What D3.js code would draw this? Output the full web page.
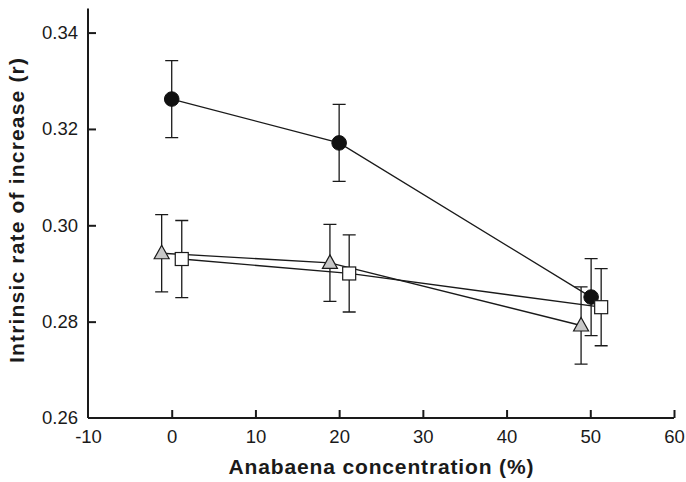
<!DOCTYPE html>
<html><head><meta charset="utf-8">
<script src="https://cdn.jsdelivr.net/npm/d3@7"></script>
<style>body{margin:0;background:#fff}svg{display:block}</style>
</head><body>
<svg id="c" width="686" height="482"></svg>
<script>
const xTicks = [-10, 0, 10, 20, 30, 40, 50, 60];
const xTickLabels = ["-10", "0", "10", "20", "30", "40", "50", "60"];
const yTicks = [0.26, 0.28, 0.30, 0.32, 0.34];
const yTickLabels = ["0.26", "0.28", "0.30", "0.32", "0.34"];

const circleX = [0, 20, 50.1];
const circleY = [0.3262, 0.3171, 0.2851];
const circleErr = [0.008, 0.008, 0.008];

const triX = [-1.2, 18.9, 48.9];
const triY = [0.2942, 0.2922, 0.2792];
const triErr = [0.008, 0.008, 0.008];

const sqX = [1.2, 21.2, 51.3];
const sqY = [0.2930, 0.2900, 0.2830];
const sqErr = [0.008, 0.008, 0.008];

const svg = d3.select("#c");
const x = d3.scaleLinear().domain([-10, 60]).range([88, 674]);
const y = d3.scaleLinear().domain([0.26, 0.345]).range([418, 8.5]);
const ink = "#1a1a1a";
const font = "'Liberation Sans', Arial, Helvetica, sans-serif";

// axes
const yAxis = d3.axisLeft(y).tickValues(yTicks).tickFormat((d,i)=>yTickLabels[i]).tickSize(-8).tickPadding(10).tickSizeOuter(0);
const gy = svg.append("g").attr("transform", "translate(88,0)").call(yAxis);
const xAxis = d3.axisBottom(x).tickValues(xTicks).tickFormat((d,i)=>xTickLabels[i]).tickSize(-8).tickPadding(12).tickSizeOuter(0);
const gx = svg.append("g").attr("transform", "translate(0,418)").call(xAxis);
[gx, gy].forEach(g => {
  g.attr("font-size", null).attr("font-family", null);
  g.select(".domain").attr("stroke", ink).attr("stroke-width", 2);
  g.selectAll(".tick line").attr("stroke", ink).attr("stroke-width", 2);
  g.selectAll(".tick text").attr("fill", ink).style("font-family", font).style("font-size", "18.5px");
});
gy.select(".domain").attr("d", `M0,${y.range()[1]}V418`);
gx.select(".domain").attr("d", `M88,0H674`);
gy.selectAll(".tick").filter(d => d === 0.26).select("line").remove();
gx.selectAll(".tick").filter(d => d === -10).select("line").remove();

// titles
svg.append("text").attr("x", 381).attr("y", 474).attr("text-anchor", "middle")
  .attr("textLength", 305).attr("lengthAdjust", "spacing")
  .style("font-family", font).style("font-size", "21px").style("font-weight", "bold").attr("fill", ink)
  .text("Anabaena concentration (%)");
svg.append("text").attr("transform", "translate(23.5,210.5) rotate(-90)").attr("text-anchor", "middle")
  .attr("textLength", 305).attr("lengthAdjust", "spacing")
  .style("font-family", font).style("font-size", "21px").style("font-weight", "bold").attr("fill", ink)
  .text("Intrinsic rate of increase (r)");

const series = [
  {xs: circleX, ys: circleY, es: circleErr, shape: "circle"},
  {xs: triX, ys: triY, es: triErr, shape: "triangle"},
  {xs: sqX, ys: sqY, es: sqErr, shape: "square"}
];

const line = d3.line().x(d => x(d[0])).y(d => y(d[1]));
const g = svg.append("g");
series.forEach(s => {
  const pts = s.xs.map((v,i)=>[v, s.ys[i]]);
  g.append("path").attr("d", line(pts)).attr("fill", "none").attr("stroke", ink).attr("stroke-width", 1.3);
});
series.forEach(s => {
  s.xs.forEach((v,i) => {
    const cx = x(v), t = y(s.ys[i] + s.es[i]), b = y(s.ys[i] - s.es[i]);
    g.append("path").attr("d", `M${cx},${t}V${b}M${cx-6.5},${t}H${cx+6.5}M${cx-6.5},${b}H${cx+6.5}`)
      .attr("fill", "none").attr("stroke", ink).attr("stroke-width", 1.3);
  });
});
series.forEach(s => {
  s.xs.forEach((v,i) => {
    const cx = x(v), cy = y(s.ys[i]);
    if (s.shape === "circle") {
      g.append("circle").attr("cx", cx).attr("cy", cy).attr("r", 7.3).attr("fill", "#111").attr("stroke", "#111");
    } else if (s.shape === "triangle") {
      g.append("path").attr("d", `M${cx},${cy-8}L${cx+7.5},${cy+5.5}L${cx-7.5},${cy+5.5}Z`)
        .attr("fill", "#c8c8c8").attr("stroke", ink).attr("stroke-width", 1.2);
    } else {
      g.append("rect").attr("x", cx-6.5).attr("y", cy-6.5).attr("width", 13).attr("height", 13)
        .attr("fill", "#fff").attr("stroke", ink).attr("stroke-width", 1.2);
    }
  });
});
</script>
</body></html>
